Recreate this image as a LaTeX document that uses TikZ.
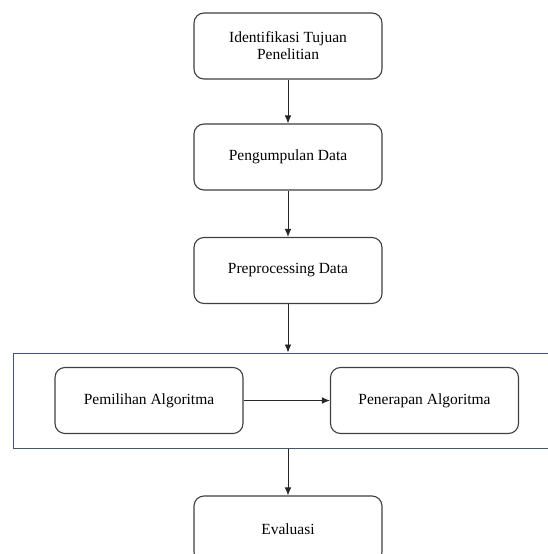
\documentclass[tikz,border=0pt]{standalone}
\usepackage{fontspec}
\setmainfont{Liberation Serif}
\usetikzlibrary{arrows.meta}
\usetikzlibrary{calc}
\usetikzlibrary{positioning}

\begin{document}
\begin{tikzpicture}[
  x=1pt, y=-1pt,
  > = {Latex[length=8pt,width=6.5pt]},
  every node/.style = {font=\fontsize{15.5}{17}\selectfont},
  stepbox/.style = {draw=black!75, line width=1.1pt, rounded corners=10pt, fill=white,
                    minimum width=188pt, minimum height=66pt, align=center, inner sep=2pt},
  frame/.style = {draw={rgb,255:red,65;green,85;blue,122}, line width=1pt,
                  minimum width=560pt, minimum height=95pt, inner sep=0pt},
  flow/.style = {->, line width=0.8pt, black!85}
  ]
	\useasboundingbox (0,0) rectangle (548,554);
	\clip (0,0) rectangle (548,554);
	\fill[white] (0,0) rectangle (548,554);

	\coordinate (@1) at (288,46);
	\coordinate (@2) at (288,157);
	\coordinate (@3) at (288,270.5);
	\coordinate (@4) at (149,400.5);
	\coordinate (@5) at (424.5,400.5);
	\coordinate (@6) at (288,529);

	\node[frame] (stage) at (293,400.5) {};

	\node[stepbox] (tujuan) at (@1) {Identifikasi Tujuan\\Penelitian};
	\node[stepbox] (kumpul) at (@2) {Pengumpulan Data};
	\node[stepbox] (prepro) at (@3) {Preprocessing Data};
	\node[stepbox] (pilih) at (@4) {Pemilihan Algoritma};
	\node[stepbox] (terap) at (@5) {Penerapan Algoritma};
	\node[stepbox] (eval) at (@6) {Evaluasi};

	\coordinate (masuk) at (prepro.south |- stage.north);
	\coordinate (keluar) at (eval.north |- stage.south);

	\draw[flow] (tujuan) -- (kumpul);
	\draw[flow] (kumpul) -- (prepro);
	\draw[flow] (prepro) -- (masuk);
	\draw[flow] (pilih) -- (terap);
	\draw[flow] (keluar) -- (eval);

\end{tikzpicture}
\end{document}
